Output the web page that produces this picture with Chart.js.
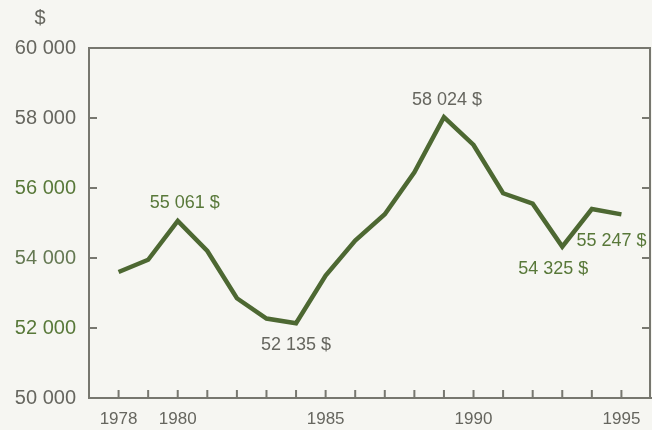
<!DOCTYPE html>
<html lang="fr">
<head>
<meta charset="UTF-8">
<title>Revenu 1978-1995</title>
<style>
  body { margin: 0; background: #f6f6f2; }
  #graphique { display: block; }
</style>
</head>
<body>
<canvas id="graphique" width="652" height="430"></canvas>

<script src="https://cdn.jsdelivr.net/npm/chart.js"></script>
<script>
// donnees
const annees = [1978, 1979, 1980, 1981, 1982, 1983, 1984, 1985, 1986, 1987,
                1988, 1989, 1990, 1991, 1992, 1993, 1994, 1995];
const revenu = [53600, 53950, 55061, 54200, 52850, 52270, 52135, 53500, 54500, 55250,
                56450, 58024, 57230, 55850, 55550, 54325, 55400, 55247];
const anneesEtiquetees = [1978, 1980, 1985, 1990, 1995];
const graduationsY = [50000, 52000, 54000, 56000, 58000, 60000];
const valeursNotees = [55061, 52135, 58024, 54325, 55247];

const GRIS = '#66665f';
const VERT = '#587839';
const CADRE = '#77776f';

function espaces(v) {
    return String(v).replace(/\B(?=(\d{3})+(?!\d))/g, ' ');
}

// decalage des etiquettes par rapport au point
const placement = {
    55061: { dx: 7, dy: -18, couleur: VERT },
    52135: { dx: 0, dy: 22, couleur: GRIS },
    58024: { dx: 3, dy: -17, couleur: GRIS },
    54325: { dx: -9, dy: 22, couleur: VERT },
    55247: { dx: -10, dy: 27, couleur: VERT }
};

const cadre = {
    id: 'cadre',
    afterDraw(chart) {
        const ctx = chart.ctx;
        const a = chart.chartArea;
        const sx = chart.scales.x;
        const sy = chart.scales.y;
        ctx.save();
        ctx.strokeStyle = CADRE;
        ctx.lineWidth = 2;
        ctx.strokeRect(a.left, a.top, a.right - a.left - 1, a.bottom - a.top);

        // petites graduations vers l'interieur
        ctx.beginPath();
        annees.forEach(an => {
            const x = sx.getPixelForValue(an);
            ctx.moveTo(x, a.bottom);
            ctx.lineTo(x, a.bottom - 8);
        });
        graduationsY.slice(1, -1).forEach(v => {
            const y = sy.getPixelForValue(v);
            ctx.moveTo(a.left, y);
            ctx.lineTo(a.left + 8, y);
            ctx.moveTo(a.right - 1, y);
            ctx.lineTo(a.right - 9, y);
        });
        ctx.stroke();

        // symbole de l'axe
        ctx.fillStyle = GRIS;
        ctx.font = '20px "Liberation Sans", Arial, sans-serif';
        ctx.textAlign = 'center';
        ctx.textBaseline = 'middle';
        ctx.fillText('$', 40, 18);

        // etiquettes de valeurs
        ctx.font = '18px "Liberation Sans", Arial, sans-serif';
        const meta = chart.getDatasetMeta(0);
        revenu.forEach((v, i) => {
            if (!valeursNotees.includes(v)) return;
            const p = meta.data[i];
            const pl = placement[v];
            ctx.fillStyle = pl.couleur;
            ctx.fillText(espaces(v) + ' $', p.x + pl.dx, p.y + pl.dy);
        });
        ctx.restore();
    }
};

new Chart(document.getElementById('graphique').getContext('2d'), {
    type: 'line',
    data: {
        datasets: [{
            data: annees.map((an, i) => ({ x: an, y: revenu[i] })),
            borderColor: '#4d6832',
            borderWidth: 4.5,
            pointRadius: 0,
            tension: 0,
            fill: false
        }]
    },
    options: {
        responsive: false,
        animation: false,
        layout: { padding: { top: 48, right: 1, left: 0, bottom: 0 } },
        plugins: {
            legend: { display: false },
            tooltip: { enabled: false }
        },
        scales: {
            x: {
                type: 'linear',
                min: 1977,
                max: 1996,
                afterFit(scale) { scale.height = 32; },
                afterBuildTicks(scale) {
                    scale.ticks = annees.map(an => ({ value: an }));
                },
                grid: { display: false, drawTicks: false },
                border: { display: true, color: CADRE, width: 2 },
                ticks: {
                    autoSkip: false,
                    maxRotation: 0,
                    padding: 11,
                    color: GRIS,
                    font: { family: '"Liberation Sans", Arial, sans-serif', size: 17 },
                    callback: v => anneesEtiquetees.includes(v) ? String(v) : ''
                }
            },
            y: {
                min: 50000,
                max: 60000,
                afterFit(scale) { scale.width = 89; },
                afterBuildTicks(scale) {
                    scale.ticks = graduationsY.map(v => ({ value: v }));
                },
                grid: { display: false, drawTicks: false },
                border: { display: true, color: CADRE, width: 2 },
                ticks: {
                    padding: 13,
                    color: c => (c.tick && (c.tick.value === 52000 || c.tick.value === 56000)) ? VERT
                        : (c.tick && c.tick.value === 54000 ? '#647852' : GRIS),
                    font: { family: '"Liberation Sans", Arial, sans-serif', size: 20 },
                    callback: v => espaces(v)
                }
            }
        }
    },
    plugins: [cadre]
});
</script>
</body>
</html>
